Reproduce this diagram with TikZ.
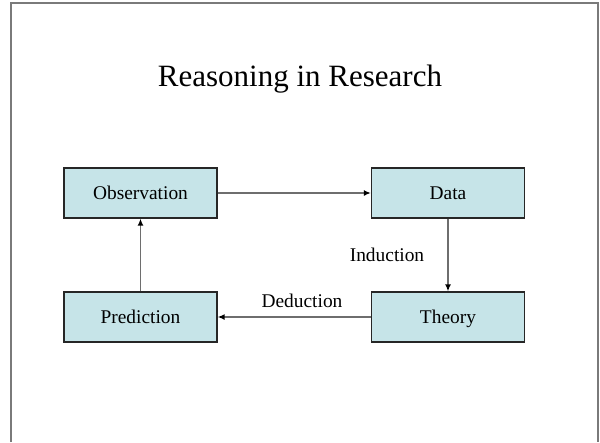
\documentclass[tikz,border=0pt]{standalone}
\usepackage{fontspec}
\setmainfont{Liberation Serif}
\usetikzlibrary{arrows.meta}
\definecolor{boxfill}{HTML}{C6E4E8}
\definecolor{linegray}{HTML}{6E6E6E}
\definecolor{framegray}{HTML}{7A7A7A}
\begin{document}
\begin{tikzpicture}[x=1pt,y=-1pt,
  stepbox/.style={draw=black!85,line width=1.3pt,fill=boxfill,minimum width=153pt,minimum height=50pt,inner sep=0pt,text height=14pt,text depth=2pt,font=\fontsize{19.4}{21}\selectfont},
  conn/.style={draw=linegray,line width=1.6pt,-{Latex[length=7pt,width=6pt,black]}},
  lbl/.style={font=\fontsize{19.4}{21}\selectfont,inner sep=0pt,text height=14pt,text depth=2pt}]
\useasboundingbox (0,0) rectangle (600,442);
\fill[white] (0,0) rectangle (600,442);
\draw[framegray,line width=1.8pt] (11,442) -- (11,3) -- (598,3) -- (598,442);
\node[font=\fontsize{31}{34}\selectfont,inner sep=0pt] (title) at (300,79) {Reasoning in Research};
\node[stepbox] (obs) at (140.5,193) {Observation};
\node[stepbox] (data) at (448,193) {Data};
\node[stepbox] (pred) at (140.5,317) {Prediction};
\node[stepbox] (theo) at (448,317) {Theory};
\draw[conn] (obs) -- (data);
\draw[conn] (data.south) -- (theo.north);
\draw[conn] (theo) -- (pred);
\draw[conn] (pred.north) -- (obs.south);
\node[lbl] (ind) at (387,255) {Induction};
\node[lbl] (ded) at (302,301) {Deduction};
\end{tikzpicture}
\end{document}
